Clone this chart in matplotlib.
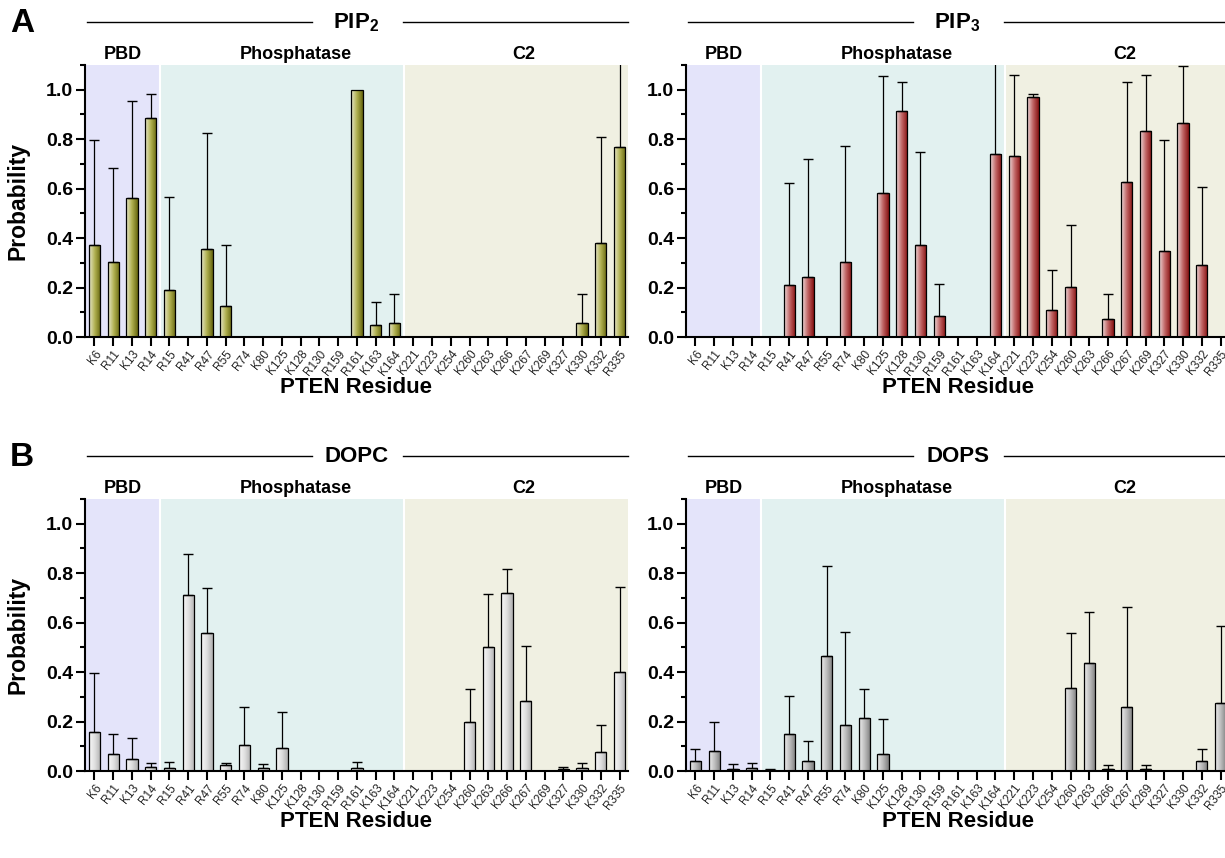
import numpy as np
import matplotlib
matplotlib.use('Agg')
import matplotlib.pyplot as plt
from matplotlib.colors import LinearSegmentedColormap
from matplotlib.ticker import MultipleLocator

plt.rcParams['font.family'] = ['Liberation Sans', 'DejaVu Sans']
plt.rcParams['mathtext.fontset'] = 'custom'
plt.rcParams['mathtext.rm'] = 'Liberation Sans'
plt.rcParams['mathtext.bf'] = 'Liberation Sans:bold'

residues = ['K6', 'R11', 'K13', 'R14', 'R15', 'R41', 'R47', 'R55', 'R74', 'K80',
            'K125', 'K128', 'R130', 'R159', 'R161', 'K163', 'K164', 'K221', 'K223',
            'K254', 'K260', 'K263', 'K266', 'K267', 'K269', 'K327', 'K330', 'K332', 'R335']

# mean probability and upper error for each lipid
pip2_mean = [0.374, 0.304, 0.561, 0.887, 0.191, 0, 0.354, 0.124, 0, 0,
             0, 0, 0, 0, 1.0, 0.048, 0.058, 0, 0,
             0, 0, 0, 0, 0, 0, 0, 0.058, 0.381, 0.77]
pip2_err = [0.424, 0.381, 0.392, 0.094, 0.377, 0, 0.471, 0.25, 0, 0,
            0, 0, 0, 0, 0, 0.093, 0.114, 0, 0,
            0, 0, 0, 0, 0, 0, 0, 0.114, 0.429, 0.45]

pip3_mean = [0, 0, 0, 0, 0, 0.209, 0.241, 0, 0.303, 0,
             0.583, 0.914, 0.374, 0.083, 0, 0, 0.742, 0.733, 0.972,
             0.109, 0.203, 0, 0.074, 0.626, 0.833, 0.346, 0.865, 0.293, 0]
pip3_err = [0, 0, 0, 0, 0, 0.414, 0.479, 0, 0.471, 0,
            0.472, 0.117, 0.373, 0.132, 0, 0, 0.45, 0.327, 0.01,
            0.163, 0.249, 0, 0.1, 0.405, 0.225, 0.452, 0.229, 0.315, 0]

dopc_mean = [0.156, 0.07, 0.047, 0.016, 0.013, 0.713, 0.557, 0.024, 0.104, 0.013,
             0.092, 0, 0, 0, 0.013, 0, 0, 0, 0,
             0, 0.2, 0.503, 0.718, 0.284, 0, 0.009, 0.013, 0.077, 0.4]
dopc_err = [0.242, 0.078, 0.088, 0.018, 0.025, 0.166, 0.183, 0.01, 0.153, 0.017,
            0.147, 0, 0, 0, 0.025, 0, 0, 0, 0,
            0, 0.13, 0.211, 0.097, 0.223, 0, 0.009, 0.021, 0.108, 0.345]

dops_mean = [0.04, 0.081, 0.01, 0.013, 0.005, 0.148, 0.04, 0.465, 0.187, 0.216,
             0.07, 0, 0, 0, 0, 0, 0, 0, 0,
             0, 0.337, 0.438, 0.008, 0.26, 0.008, 0, 0, 0.04, 0.276]
dops_err = [0.05, 0.117, 0.02, 0.021, 0.002, 0.157, 0.081, 0.364, 0.376, 0.114,
            0.139, 0, 0, 0, 0, 0, 0, 0, 0,
            0, 0.22, 0.206, 0.015, 0.403, 0.015, 0, 0, 0.05, 0.309]

domains = ['PBD', 'Phosphatase', 'C2']
domain_edges = [-0.5, 3.5, 16.5, 28.45]
domain_label_x = [1.5, 10.75, 22.9]
domain_colors = ['#e4e4fa', '#e2f1f0', '#f0f0e2']

fig = plt.figure(figsize=(12.25, 8.58), dpi=100)
W, H = 1225, 858


def panel(left_px, bottom_px, means, errs, colors, title, ylabel):
    ax = fig.add_axes([left_px / W, 1 - bottom_px / H, 543 / W, 272 / H])
    x = np.arange(len(residues))
    means = np.array(means)
    errs = np.array(errs)

    for i in range(3):
        ax.axvspan(domain_edges[i], domain_edges[i + 1], color=domain_colors[i], lw=0, zorder=0)
    for e in domain_edges[1:3]:
        ax.axvline(e, color='white', lw=1.5, zorder=1)

    bars = ax.bar(x, means, width=0.6, facecolor='none', edgecolor='black', lw=0.9, zorder=3)
    cmap = LinearSegmentedColormap.from_list('grad', colors)
    grad = np.linspace(0, 1, 100).reshape(1, -1)
    for b in bars:
        h = b.get_height()
        if h <= 0:
            continue
        im = ax.imshow(grad, extent=(b.get_x(), b.get_x() + b.get_width(), 0, h),
                       aspect='auto', cmap=cmap, zorder=2, origin='lower')
        im.set_clip_path(b)

    sel = errs > 0
    ax.errorbar(x[sel], means[sel], yerr=[np.zeros(sel.sum()), errs[sel]], fmt='none',
                ecolor='black', elinewidth=0.9, capsize=3.3, capthick=1, zorder=4)

    ax.set_xlim(-0.5, 28.45)
    ax.set_ylim(0, 1.1)
    ax.set_xticks(x)
    ax.set_xticklabels(residues, rotation=52, ha='right', rotation_mode='anchor',
                       fontsize=8.5, color='#222222')
    ax.set_yticks(np.arange(0, 1.01, 0.2))
    ax.set_yticklabels(['%.1f' % v for v in np.arange(0, 1.01, 0.2)], fontsize=14, fontweight='bold')
    ax.yaxis.set_minor_locator(MultipleLocator(0.1))
    ax.tick_params(axis='both', which='major', direction='out', length=6.5, width=1.5)
    ax.tick_params(axis='y', which='minor', direction='out', length=3.5, width=1.5)
    ax.tick_params(axis='x', pad=1.5)
    ax.tick_params(axis='y', pad=2)
    for s in ['top', 'right']:
        ax.spines[s].set_visible(False)
    for s in ['left', 'bottom']:
        ax.spines[s].set_linewidth(1.5)

    for name, lx in zip(domains, domain_label_x):
        ax.text(lx, 1.11, name, ha='center', va='bottom', fontsize=13, fontweight='bold')

    ax.text(0.5, 1.157, title, transform=ax.transAxes, ha='center', va='center',
            fontsize=16, fontweight='bold')
    ax.plot([0.004, 0.418], [1.157, 1.157], transform=ax.transAxes, color='black', lw=1, clip_on=False)
    ax.plot([0.586, 1.0], [1.157, 1.157], transform=ax.transAxes, color='black', lw=1, clip_on=False)

    ax.text(0.5, -0.185, 'PTEN Residue', transform=ax.transAxes, ha='center', va='center',
            fontsize=16, fontweight='bold')
    if ylabel:
        fig.text(18 / W, 1 - (bottom_px - 136) / H, 'Probability', rotation=90,
                 ha='center', va='center', fontsize=16.5, fontweight='bold')
    return ax


panel(85, 337, pip2_mean, pip2_err, ['#e8e8cc', '#b0b050', '#66660e'], r'PIP$_\mathbf{2}$', True)
panel(686, 337, pip3_mean, pip3_err, ['#eedcdc', '#c06464', '#861010'], r'PIP$_\mathbf{3}$', False)
panel(85, 771, dopc_mean, dopc_err, ['#fafafa', '#dedede', '#b0b0b0'], 'DOPC', True)
panel(686, 771, dops_mean, dops_err, ['#eeeeee', '#bbbbbb', '#7c7c7c'], 'DOPS', False)

fig.text(22 / W, 1 - 24 / H, 'A', ha='center', va='center', fontsize=24, fontweight='bold')
fig.text(22 / W, 1 - 457 / H, 'B', ha='center', va='center', fontsize=24, fontweight='bold')

fig.savefig('out.png', dpi=100)
